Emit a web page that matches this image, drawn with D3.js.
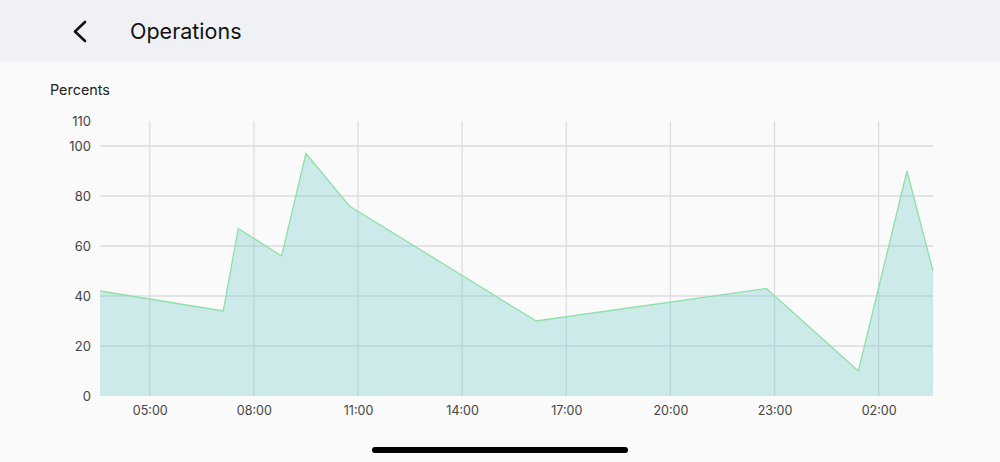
<!DOCTYPE html>
<html><head><meta charset="utf-8">
<script src="https://cdn.jsdelivr.net/npm/d3@7"></script>
<style>
html,body{margin:0;padding:0;background:#fafafa;}
svg{display:block;font-family:Inter,"Noto Sans",sans-serif;}
</style></head>
<body>
<svg id="c" width="1000" height="462"></svg>
<script>
const times = ["2024-01-01T03:34","2024-01-01T07:07","2024-01-01T07:33","2024-01-01T08:48","2024-01-01T09:30","2024-01-01T10:45","2024-01-01T16:08","2024-01-01T22:46","2024-01-02T01:25","2024-01-02T02:49","2024-01-02T03:34"];
const values = [42, 34, 67, 56, 97, 76, 30, 43, 10, 90, 50];
const yTicks = [0, 20, 40, 60, 80, 100, 110];
const xTickTimes = ["2024-01-01T05:00","2024-01-01T08:00","2024-01-01T11:00","2024-01-01T14:00","2024-01-01T17:00","2024-01-01T20:00","2024-01-01T23:00","2024-01-02T02:00"];
const title = "Operations";
const yLabel = "Percents";

const parse = s => new Date(s + ":00Z");
const data = times.map((t, i) => ({t: parse(t), v: values[i]}));
const svg = d3.select("#c");

// header
svg.append("rect").attr("x",0).attr("y",0).attr("width",1000).attr("height",62).attr("fill","#f0f1f5");
svg.append("path").attr("d","M85,22 L75,31.5 L85,41").attr("fill","none").attr("stroke","#111").attr("stroke-width",2.6).attr("stroke-linecap","round").attr("stroke-linejoin","round");
svg.append("text").attr("x",130).attr("y",39).attr("font-size",21.5).attr("fill","#111").text(title);

svg.append("text").attr("x",50).attr("y",95).attr("font-size",14.4).attr("fill","#222").text(yLabel);

const x = d3.scaleUtc().domain([parse(times[0]), parse(times[times.length-1])]).range([100, 933]);
const y = d3.scaleLinear().domain([0, 110]).range([396, 121]);

const g = svg.append("g");
// horizontal grid
g.selectAll(".hg").data(yTicks.filter(d => d > 0 && d < 110)).enter().append("line")
  .attr("x1",100).attr("x2",933).attr("y1",d=>y(d)).attr("y2",d=>y(d))
  .attr("stroke","#dcdce2").attr("stroke-width",1.3);
// vertical grid
const xt = xTickTimes.map(parse);
g.selectAll(".vg").data(xt).enter().append("line")
  .attr("x1",d=>x(d)).attr("x2",d=>x(d)).attr("y1",121).attr("y2",396)
  .attr("stroke","#dcdce2").attr("stroke-width",1.3);

// area
const area = d3.area().x(d=>x(d.t)).y0(y(0)).y1(d=>y(d.v));
svg.append("path").datum(data).attr("d",area).attr("fill","rgb(89,193,193)").attr("fill-opacity",0.28);
const line = d3.line().x(d=>x(d.t)).y(d=>y(d.v));
svg.append("path").datum(data).attr("d",line).attr("fill","none").attr("stroke","#8ee0a4").attr("stroke-width",1.3);

// y axis labels
const yAxis = d3.axisLeft(y).tickValues(yTicks).tickSize(0).tickPadding(9);
const ya = svg.append("g").attr("transform","translate(100,0)").call(yAxis);
ya.select(".domain").remove();
ya.selectAll("text").attr("font-size",13).attr("fill","#444").attr("font-family","Inter,'Noto Sans',sans-serif");

// x axis labels
const xAxis = d3.axisBottom(x).tickValues(xt).tickFormat(d3.utcFormat("%H:%M")).tickSize(0).tickPadding(10);
const xa = svg.append("g").attr("transform","translate(0,396)").call(xAxis);
xa.select(".domain").remove();
xa.selectAll("text").attr("font-size",12.5).attr("fill","#444").attr("font-family","Inter,'Noto Sans',sans-serif");

// home indicator
svg.append("rect").attr("x",372).attr("y",447).attr("width",256).attr("height",6).attr("rx",3).attr("fill","#000");
</script>
</body></html>
